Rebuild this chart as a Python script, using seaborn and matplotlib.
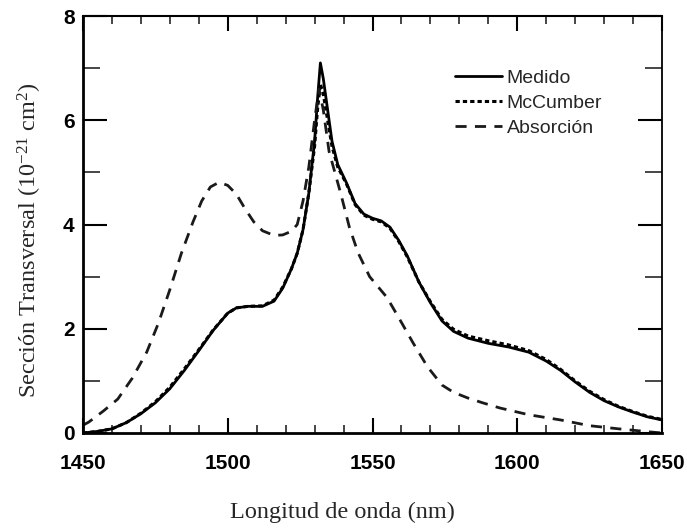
import numpy as np
import pandas as pd
import matplotlib
matplotlib.use("Agg")
import matplotlib.pyplot as plt
import seaborn as sns
from matplotlib.ticker import MultipleLocator

# ---- data ----
wl_med = [1450, 1455, 1460, 1465, 1470, 1475, 1480, 1485, 1490, 1495, 1500, 1503, 1507,
          1512, 1516, 1519, 1522, 1524, 1526, 1528, 1530, 1531, 1532, 1533, 1534.5, 1536,
          1538, 1541, 1544, 1547, 1550, 1553, 1556, 1559, 1562, 1566, 1570, 1574, 1578,
          1583, 1590, 1597, 1604, 1610, 1615, 1620, 1625, 1630, 1635, 1640, 1645, 1650]
medido = [0.0, 0.03, 0.08, 0.2, 0.37, 0.58, 0.85, 1.2, 1.58, 1.97, 2.3, 2.4, 2.43,
          2.43, 2.53, 2.78, 3.15, 3.45, 3.9, 4.6, 5.6, 6.4, 7.1, 6.8, 6.2, 5.6,
          5.15, 4.8, 4.4, 4.2, 4.12, 4.07, 3.95, 3.7, 3.4, 2.9, 2.5, 2.15, 1.95,
          1.82, 1.72, 1.65, 1.55, 1.38, 1.2, 0.98, 0.78, 0.62, 0.5, 0.4, 0.31, 0.25]
mccumber = [0.0, 0.03, 0.08, 0.2, 0.38, 0.6, 0.88, 1.23, 1.6, 1.98, 2.3, 2.4, 2.43,
            2.44, 2.55, 2.8, 3.15, 3.45, 3.9, 4.6, 5.5, 6.2, 6.7, 6.5, 6.0, 5.5,
            5.1, 4.78, 4.38, 4.18, 4.1, 4.05, 3.93, 3.68, 3.38, 2.9, 2.52, 2.18, 1.99,
            1.86, 1.77, 1.69, 1.58, 1.41, 1.22, 1.0, 0.8, 0.64, 0.51, 0.41, 0.32, 0.26]

wl_abs = [1450, 1452, 1457, 1462, 1467, 1472, 1476, 1480, 1484, 1488, 1491, 1494, 1497,
          1500, 1503, 1506, 1509, 1512, 1516, 1519, 1522, 1524, 1526, 1528, 1530, 1531.5,
          1533, 1535, 1537, 1539, 1542, 1545, 1549, 1555, 1559.5, 1564, 1569, 1574, 1578,
          1583, 1588, 1594, 1604, 1615, 1625, 1635, 1646, 1650]
absorcion = [0.15, 0.21, 0.42, 0.65, 1.05, 1.55, 2.1, 2.75, 3.45, 4.05, 4.45, 4.72, 4.81,
             4.75, 4.58, 4.3, 4.05, 3.88, 3.79, 3.8, 3.87, 4.0, 4.45, 5.1, 6.0, 6.6,
             6.2, 5.4, 5.0, 4.6, 3.95, 3.46, 3.0, 2.6, 2.17, 1.73, 1.27, 0.92, 0.78,
             0.67, 0.58, 0.48, 0.35, 0.25, 0.14, 0.08, 0.02, 0.0]

x_ticks = [1450, 1500, 1550, 1600, 1650]
y_ticks = [0, 2, 4, 6, 8]
labels = ["Medido", "McCumber", "Absorción"]

# ---- style ----
sns.set_theme(style="ticks")
plt.rcParams["font.family"] = ["Liberation Sans", "DejaVu Sans"]
plt.rcParams["mathtext.fontset"] = "custom"
plt.rcParams["mathtext.rm"] = "Liberation Serif"
plt.rcParams["mathtext.it"] = "Liberation Serif:italic"

fig = plt.figure(figsize=(6.87, 5.31), dpi=100)
fig.patch.set_facecolor("white")
ax = fig.add_axes([83 / 687, (531 - 433) / 531, (662 - 83) / 687, (433 - 16) / 531])
ax.set_facecolor("white")

df_med = pd.DataFrame({"wl": wl_med, "val": medido})
df_mcc = pd.DataFrame({"wl": wl_med, "val": mccumber})
df_abs = pd.DataFrame({"wl": wl_abs, "val": absorcion})

sns.lineplot(data=df_med, x="wl", y="val", ax=ax, color="black", lw=2.0,
             label=labels[0], sort=False, solid_joinstyle="round")
sns.lineplot(data=df_mcc, x="wl", y="val", ax=ax, color="black", lw=2.2,
             linestyle=(0, (1.4, 1.0)), label=labels[1], sort=False)
sns.lineplot(data=df_abs, x="wl", y="val", ax=ax, color="#1a1a1a", lw=2.0,
             linestyle=(0, (4, 3)), label=labels[2], sort=False)

ax.set_xlim(1450, 1650)
ax.set_ylim(0, 8)
ax.set_xticks(x_ticks)
ax.set_yticks(y_ticks)
ax.set_xticklabels([str(v) for v in x_ticks])
ax.set_yticklabels([str(v) for v in y_ticks])
ax.xaxis.set_minor_locator(MultipleLocator(10))
ax.yaxis.set_minor_locator(MultipleLocator(1))

ax.tick_params(axis="x", which="major", direction="in", length=11, width=1.5,
               top=True, bottom=True, pad=15, labelsize=15, colors="black")
ax.tick_params(axis="x", which="minor", direction="in", length=6, width=1.2,
               top=True, bottom=True)
ax.tick_params(axis="y", which="major", direction="in", length=17, width=1.5,
               left=True, right=True, pad=6, labelsize=15, colors="black")
ax.tick_params(axis="y", which="minor", direction="in", length=12, width=1.2,
               left=True, right=True)
for lab in ax.get_xticklabels() + ax.get_yticklabels():
    lab.set_fontweight("bold")

for side in ["left", "bottom", "top", "right"]:
    ax.spines[side].set_visible(True)
    ax.spines[side].set_color("black")
ax.spines["left"].set_linewidth(2.0)
ax.spines["bottom"].set_linewidth(2.0)
ax.spines["top"].set_linewidth(1.5)
ax.spines["right"].set_linewidth(1.3)

ax.set_xlabel("Longitud de onda (nm)", family="Liberation Serif", fontsize=17.5)
ax.set_ylabel("Sección Transversal (10$^{-21}$ cm$^{2}$)", family="Liberation Serif",
              fontsize=17.5)
ax.xaxis.set_label_coords((342 - 83) / 579, (433 - 512) / 417)
ax.yaxis.set_label_coords((30 - 83) / 579, (433 - 240) / 417)
ax.xaxis.label.set_va("center")
ax.yaxis.label.set_va("center")

leg = ax.legend(loc="upper left", bbox_to_anchor=((455 - 83) / 579, (433 - 69) / 417),
                frameon=False, fontsize=14, handlelength=2.4, handletextpad=0.25,
                labelspacing=0.38, borderaxespad=0, borderpad=0)

fig.savefig("out.png", dpi=100, facecolor="white")
